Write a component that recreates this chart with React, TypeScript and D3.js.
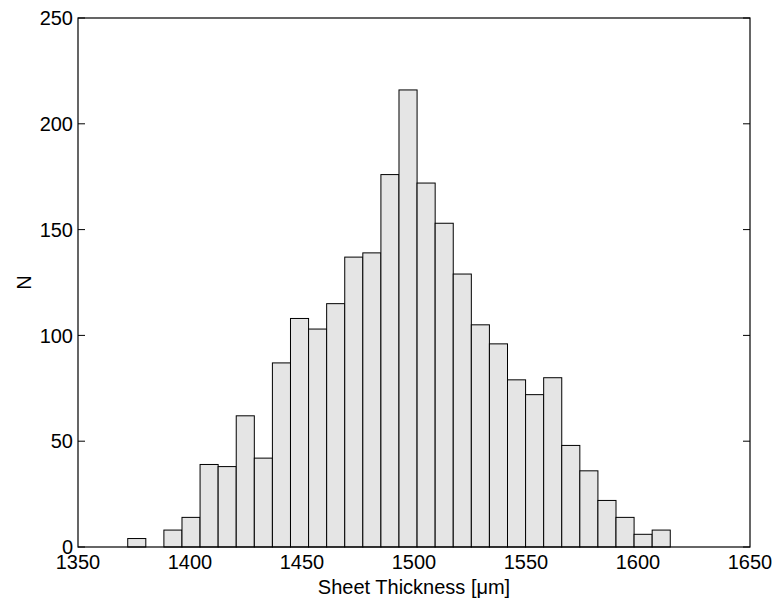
import React from "react";
import * as d3 from "d3";

// Histogram counts per bin
const counts: number[] = [
  4, 0, 8, 14, 39, 38, 62, 42, 87, 108, 103, 115, 137, 139, 176,
  216, 172, 153, 129, 105, 96, 79, 72, 80, 48, 36, 22, 14, 6, 8,
];
// Outer edges of the binned range (µm)
const binRange: [number, number] = [1372.2, 1614.4];
const xTicks: number[] = [1350, 1400, 1450, 1500, 1550, 1600, 1650];
const yTicks: number[] = [0, 50, 100, 150, 200, 250];
const xDomain: [number, number] = [1350, 1650];
const yDomain: [number, number] = [0, 250];
const xLabel = "Sheet Thickness [\u03bcm]";
const yLabel = "N";

const W = 778;
const H = 604;
const M = { left: 78, right: 750, top: 18, bottom: 547 };
const FONT = "'Liberation Sans', Arial, Helvetica, sans-serif";

export default function App() {
  const x = d3.scaleLinear().domain(xDomain).range([M.left, M.right]);
  const y = d3.scaleLinear().domain(yDomain).range([M.bottom, M.top]);
  const bw = (binRange[1] - binRange[0]) / counts.length;
  const tickLen = 7;

  return (
    <svg
      width={W}
      height={H}
      style={{ position: "absolute", left: 0, top: 0, background: "#fff" }}
      fontFamily={FONT}
    >
      {/* bars */}
      {counts.map((c, i) => {
        const x0 = x(binRange[0] + i * bw);
        const x1 = x(binRange[0] + (i + 1) * bw);
        return (
          <rect
            key={i}
            x={x0}
            y={y(c)}
            width={x1 - x0}
            height={y(0) - y(c)}
            fill="#e5e5e5"
            stroke="#000"
            strokeWidth={1}
          />
        );
      })}

      {/* axes box */}
      <rect
        x={M.left}
        y={M.top}
        width={M.right - M.left}
        height={M.bottom - M.top}
        fill="none"
        stroke="#000"
        strokeWidth={1.2}
      />

      {/* y ticks on both sides */}
      {yTicks.map((t) => (
        <g key={"y" + t}>
          <line x1={M.left} x2={M.left + tickLen} y1={y(t)} y2={y(t)} stroke="#000" />
          <line x1={M.right} x2={M.right - tickLen} y1={y(t)} y2={y(t)} stroke="#000" />
          <text
            x={M.left - 5}
            y={y(t)}
            dy="0.36em"
            textAnchor="end"
            fontSize={20}
            fill="#000"
          >
            {t}
          </text>
        </g>
      ))}

      {/* x tick labels */}
      {xTicks.map((t) => (
        <text
          key={"x" + t}
          x={x(t)}
          y={M.bottom + 22}
          textAnchor="middle"
          fontSize={20}
          fill="#000"
        >
          {t}
        </text>
      ))}

      {/* axis labels */}
      <text
        x={(M.left + M.right) / 2}
        y={594}
        textAnchor="middle"
        fontSize={20}
        fill="#000"
      >
        {xLabel}
      </text>
      <text
        transform={`translate(31, ${(M.top + M.bottom) / 2}) rotate(-90)`}
        textAnchor="middle"
        fontSize={20}
        fill="#000"
      >
        {yLabel}
      </text>
    </svg>
  );
}
